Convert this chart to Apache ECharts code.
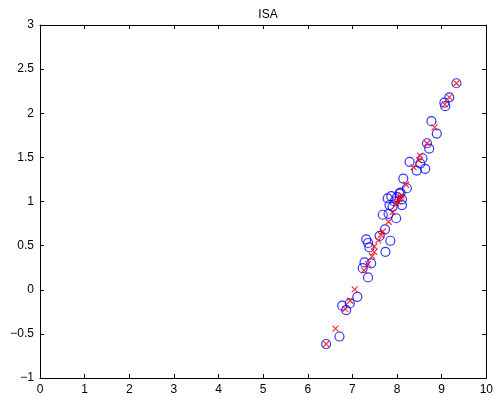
<!DOCTYPE html>
<html>
<head>
<meta charset="utf-8">
<script src="https://cdn.jsdelivr.net/npm/echarts@6/dist/echarts.min.js"></script>
<style>
  html, body { margin: 0; padding: 0; background: #fff; }
  #main { width: 496px; height: 400px; }
</style>
</head>
<body>
<div id="main"></div>
<script>
// observed points (blue circles)
var circleX = [9.33, 9.17, 9.06, 9.08, 8.77, 8.89, 8.67, 8.72, 8.28, 8.57, 8.52, 8.63, 8.44, 8.14, 8.22, 8.08,
  7.87, 7.79, 7.94, 8.11, 8.11, 7.90, 8.05, 7.68, 7.81, 7.98, 7.73, 7.61, 7.85, 7.31, 7.35, 7.74, 7.38,
  7.27, 7.42, 7.23, 7.35, 7.11, 6.94, 6.77, 6.86, 6.71, 6.41, 8.00, 7.83]
var circleY = [2.34, 2.18, 2.12, 2.08, 1.91, 1.77, 1.66, 1.60, 1.45, 1.49, 1.43, 1.37, 1.35, 1.26, 1.15, 1.10,
  1.06, 1.035, 1.00, 1.025, 0.96, 0.94, 1.09, 0.85, 0.86, 0.81, 0.685, 0.61, 0.555, 0.57, 0.53, 0.43, 0.48,
  0.31, 0.30, 0.245, 0.14, -0.08, -0.155, -0.18, -0.23, -0.53, -0.615, 1.05, 0.96]
// reconstructed points (red crosses)
var crossX = [9.33, 9.17, 9.07, 8.84, 8.67, 8.52, 8.49, 8.37, 8.20, 8.05, 8.02, 8.08, 8.10, 7.98, 7.90,
  7.81, 7.68, 7.64, 7.58, 7.49, 7.49, 7.44, 7.35, 7.26, 7.05, 6.95, 6.84, 6.62, 6.41]
var crossY = [2.34, 2.18, 2.10, 1.84, 1.66, 1.52, 1.47, 1.39, 1.19, 1.03, 1.00, 1.05, 1.07, 0.98, 0.88,
  0.77, 0.66, 0.62, 0.56, 0.49, 0.43, 0.38, 0.29, 0.22, 0.005, -0.125, -0.22, -0.44, -0.615]

var xTicks = [0, 1, 2, 3, 4, 5, 6, 7, 8, 9, 10]
var yTicks = [-1, -0.5, 0, 0.5, 1, 1.5, 2, 2.5, 3]

function pairs (xs, ys) {
  var out = []
  for (var i = 0; i < xs.length; i++) {
    out.push([xs[i], ys[i]])
  }
  return out
}

var font = 'Liberation Sans, Arial, sans-serif'
var myChart = echarts.init(document.getElementById('main'))

var lineStyle = { color: '#000', width: 1 }
var xBase = {
  type: 'value',
  min: xTicks[0],
  max: xTicks[xTicks.length - 1],
  interval: 1,
  axisLine: { show: true, onZero: false, lineStyle: lineStyle },
  axisTick: { show: true, inside: true, length: 4, lineStyle: lineStyle },
  splitLine: { show: false }
}
var yBase = {
  type: 'value',
  min: yTicks[0],
  max: yTicks[yTicks.length - 1],
  interval: 0.5,
  axisLine: { show: true, onZero: false, lineStyle: lineStyle },
  axisTick: { show: true, inside: true, length: 4, lineStyle: lineStyle },
  splitLine: { show: false }
}

var option = {
  animation: false,
  title: {
    text: 'ISA',
    left: 263,
    textAlign: 'center',
    top: 4,
    textStyle: { fontFamily: font, fontSize: 12, fontWeight: 'normal', color: '#000' }
  },
  grid: { left: 40, right: 9, top: 25, bottom: 22 },
  xAxis: [
    Object.assign({}, xBase, {
      position: 'bottom',
      axisLabel: { color: '#000', fontFamily: font, fontSize: 12, margin: 6 }
    }),
    Object.assign({}, xBase, { position: 'top', axisLabel: { show: false } })
  ],
  yAxis: [
    Object.assign({}, yBase, {
      position: 'left',
      axisLabel: {
        color: '#000', fontFamily: font, fontSize: 12, margin: 6,
        formatter: function (v) { return String(v).replace('-', '\u2212') }
      }
    }),
    Object.assign({}, yBase, { position: 'right', axisLabel: { show: false } })
  ],
  series: [
    {
      type: 'scatter',
      data: pairs(circleX, circleY),
      symbol: 'circle',
      symbolSize: 9,
      itemStyle: { color: 'rgba(0,0,0,0)', borderColor: '#0000ff', borderWidth: 1.2 }
    },
    {
      type: 'scatter',
      data: pairs(crossX, crossY),
      symbol: 'path://M0,0L10,10M10,0L0,10',
      symbolSize: 6,
      itemStyle: { color: 'rgba(0,0,0,0)', borderColor: '#ff0000', borderWidth: 1.2 }
    }
  ]
}
myChart.setOption(option)
</script>
</body>
</html>
